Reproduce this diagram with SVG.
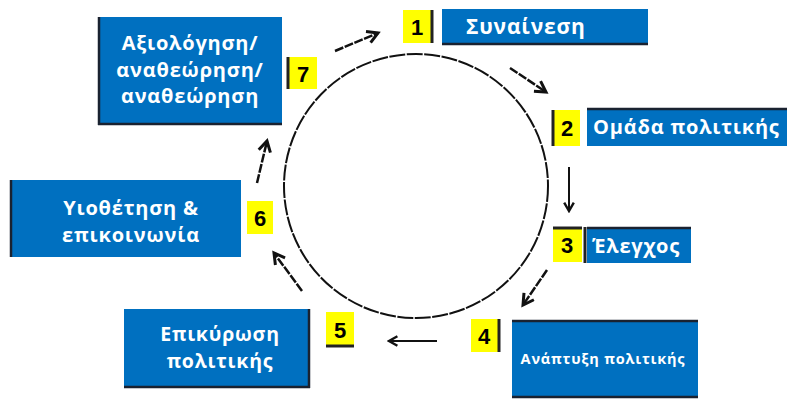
<svg xmlns="http://www.w3.org/2000/svg" width="787" height="418" viewBox="0 0 787 418">
<style>
.box{fill:#0070C0}
.edge{stroke:#1a2230;stroke-width:2.5;fill:none}
.t{font-family:"Open Sans","Noto Sans","DejaVu Sans",sans-serif;font-weight:bold;fill:#fff;letter-spacing:0.8px}
.num{fill:#FFFF00}
.n{font-family:"Liberation Sans",Arial,sans-serif;font-weight:bold;font-size:22px;fill:#000;text-anchor:middle}
.bar{stroke:#222;stroke-width:3}
.arr{stroke:#111;stroke-width:2.5;fill:none;stroke-dasharray:9 1.5;marker-end:url(#ah)}
.solid{stroke-dasharray:none;stroke-width:2}
</style>
<defs>
<marker id="ah" viewBox="0 0 10 10" refX="8" refY="5" markerWidth="6" markerHeight="6" orient="auto" markerUnits="strokeWidth">
<path d="M1,1 L8,5 L1,9" fill="none" stroke="#111" stroke-width="2"/>
</marker>
</defs>
<rect width="787" height="418" fill="#fff"/>
<g id="cycle">
<circle cx="416" cy="186" r="132" fill="none" stroke="#111" stroke-width="2" stroke-dasharray="16 1.5"/>
</g>
<g id="n1">
<rect class="num" x="403" y="10" width="29" height="33"/>
<line class="bar" x1="432" y1="10" x2="432" y2="43"/>
<text class="n" x="417" y="35">1</text>
<rect class="box" x="442" y="9" width="206" height="36"/>
<line class="edge" x1="442" y1="44" x2="648" y2="44"/>
<text class="t" x="466" y="34" font-size="21" letter-spacing="1.8">Συναίνεση</text>
</g>
<g id="n2">
<rect class="num" x="552" y="110" width="28" height="36"/>
<line class="bar" x1="553" y1="110" x2="553" y2="146"/>
<text class="n" x="567" y="136">2</text>
<rect class="box" x="587" y="108" width="200" height="38"/>
<line class="edge" x1="587" y1="109" x2="787" y2="109"/>
<text class="t" x="593" y="134" font-size="20" letter-spacing="0.3">Ομάδα πολιτικής</text>
</g>
<g id="n3">
<rect class="num" x="553" y="227" width="29" height="35"/>
<line class="bar" x1="553" y1="228" x2="582" y2="228"/>
<line class="bar" x1="585" y1="227" x2="585" y2="263"/>
<text class="n" x="567" y="253">3</text>
<rect class="box" x="587" y="227" width="104" height="36"/>
<line class="edge" x1="587" y1="228" x2="691" y2="228"/>
<text class="t" x="592" y="253" font-size="20">Έλεγχος</text>
</g>
<g id="n4">
<rect class="num" x="471" y="319" width="27" height="33"/>
<line class="bar" x1="499" y1="319" x2="499" y2="352"/>
<text class="n" x="484" y="344">4</text>
<rect class="box" x="512" y="320" width="186" height="78"/>
<line class="edge" x1="512" y1="321" x2="698" y2="321"/>
<line class="edge" x1="512" y1="397" x2="698" y2="397"/>
<text class="t" x="603" y="364" font-size="14.5" text-anchor="middle" letter-spacing="0.3">Ανάπτυξη πολιτικής</text>
</g>
<g id="n5">
<rect class="num" x="326" y="312" width="28" height="35"/>
<line class="bar" x1="326" y1="346" x2="354" y2="346"/>
<text class="n" x="340" y="338">5</text>
<rect class="box" x="124" y="309" width="186" height="79"/>
<line class="edge" x1="124" y1="387" x2="310" y2="387"/>
<line class="edge" x1="309" y1="309" x2="309" y2="388"/>
<text class="t" x="220" y="341" font-size="19.5" text-anchor="middle">Επικύρωση</text>
<text class="t" x="220" y="368" font-size="19.5" text-anchor="middle">πολιτικής</text>
</g>
<g id="n6">
<rect class="num" x="247" y="201" width="26" height="33"/>
<text class="n" x="260" y="226">6</text>
<rect class="box" x="10" y="180" width="231" height="77"/>
<line class="edge" x1="11" y1="180" x2="11" y2="257"/>
<text class="t" x="131" y="215" font-size="20" text-anchor="middle">Υιοθέτηση &amp;</text>
<text class="t" x="131" y="242" font-size="20" text-anchor="middle">επικοινωνία</text>
</g>
<g id="n7">
<rect class="num" x="287" y="57" width="30" height="32"/>
<line class="bar" x1="288" y1="57" x2="288" y2="89"/>
<text class="n" x="303" y="82">7</text>
<rect class="box" x="98" y="17" width="184" height="108"/>
<line class="edge" x1="99" y1="17" x2="99" y2="125"/>
<line class="edge" x1="98" y1="124" x2="282" y2="124"/>
<text class="t" x="190" y="50" font-size="20" text-anchor="middle">Αξιολόγηση/</text>
<text class="t" x="190" y="77" font-size="20" text-anchor="middle">αναθεώρηση/</text>
<text class="t" x="190" y="103" font-size="20" text-anchor="middle">αναθεώρηση</text>
</g>
<g id="connectors">
<line class="arr" x1="335" y1="51" x2="378" y2="33"/>
<line class="arr" x1="510" y1="68" x2="546" y2="92"/>
<line class="arr solid" x1="569" y1="167" x2="569" y2="211"/>
<line class="arr" x1="547" y1="270" x2="523" y2="305"/>
<line class="arr solid" x1="437" y1="341" x2="389" y2="341"/>
<line class="arr" x1="302" y1="291" x2="274" y2="253"/>
<line class="arr" x1="257" y1="183" x2="267" y2="141"/>
</g>
</svg>
